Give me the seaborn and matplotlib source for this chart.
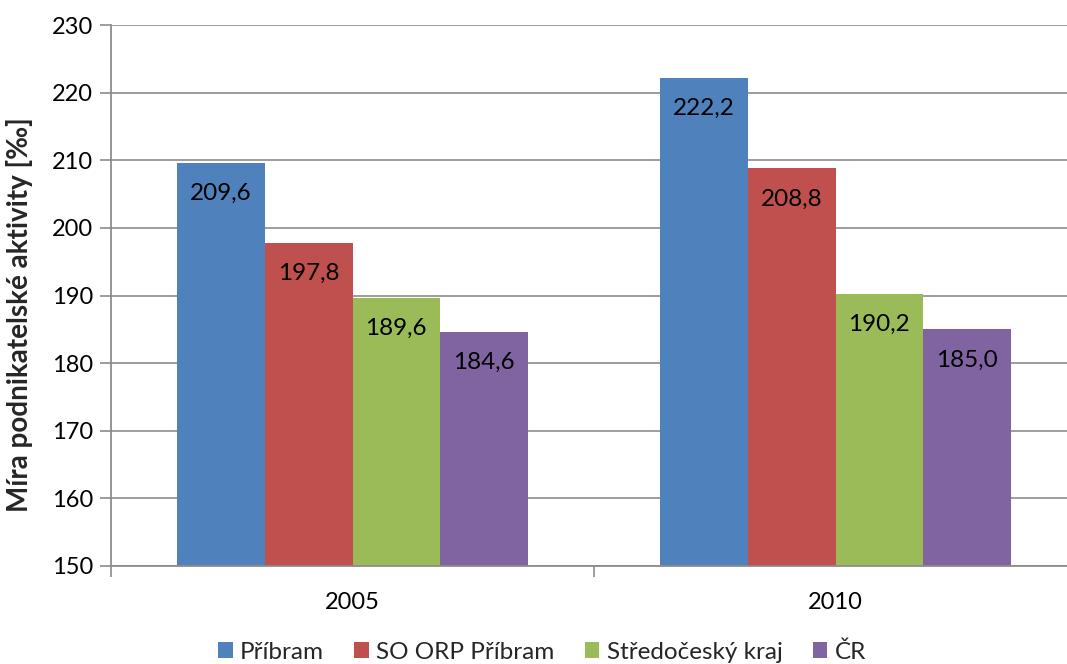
import matplotlib
matplotlib.use("Agg")
import matplotlib.pyplot as plt
import seaborn as sns
import pandas as pd
from matplotlib.ticker import MultipleLocator, FixedLocator

years = ["2005", "2010"]
regions = ["Příbram", "SO ORP Příbram", "Středočeský kraj", "ČR"]
values_2005 = [209.6, 197.8, 189.6, 184.6]
values_2010 = [222.2, 208.8, 190.2, 185.0]
colors = ["#4F81BD", "#C0504D", "#9BBB59", "#8064A2"]

rows = []
for y, vals in zip(years, [values_2005, values_2010]):
    for r, v in zip(regions, vals):
        rows.append({"year": y, "region": r, "value": v})
df = pd.DataFrame(rows)

sns.set_theme(style="white")
plt.rcParams["font.family"] = ["Lato", "DejaVu Sans"]

fig = plt.figure(figsize=(10.67, 6.64), dpi=100)
ax = fig.add_axes([111/1067, 1 - 566/664, (1077 - 111)/1067, (566 - 25)/664])

sns.barplot(data=df, x="year", y="value", hue="region", hue_order=regions,
            palette=colors, width=0.725, ax=ax, legend=True,
            edgecolor="none", linewidth=0, saturation=1)

ax.set_ylim(150, 230)
ax.set_xlim(-0.5, 1.5)
ax.yaxis.set_major_locator(MultipleLocator(10))
ax.grid(axis="y", color="#8C8C8C", linewidth=1.2)
ax.set_axisbelow(True)

for s in ["top", "right"]:
    ax.spines[s].set_visible(False)
for s in ["left", "bottom"]:
    ax.spines[s].set_color("#8C8C8C")
    ax.spines[s].set_linewidth(1.3)

ax.tick_params(axis="y", which="major", length=8, width=1.2, color="#8C8C8C",
               labelsize=17, pad=5, left=True, labelcolor="black")
ax.tick_params(axis="x", which="major", length=0, labelsize=17, pad=19, labelcolor="black")
ax.xaxis.set_minor_locator(FixedLocator([-0.5, 0.5, 1.5]))
ax.tick_params(axis="x", which="minor", length=8, width=1.2, color="#8C8C8C", bottom=True)

ax.set_xlabel("")
ax.set_ylabel("Míra podnikatelské aktivity [‰]", fontsize=20, fontweight="bold")
ax.yaxis.set_label_coords(-0.081, 0.465)

for cont in ax.containers:
    for bar in cont:
        h = bar.get_height()
        ax.annotate(f"{h:.1f}".replace(".", ","),
                    xy=(bar.get_x() + bar.get_width() / 2, h),
                    xytext=(0, -22), textcoords="offset points",
                    ha="center", va="center", fontsize=17.5, color="black")

handles, labels = ax.get_legend_handles_labels()
ax.get_legend().remove()
fig.legend(handles, labels, loc="center", bbox_to_anchor=(542/1067, 1 - 652/664),
           ncol=4, frameon=False, fontsize=17.5, handlelength=0.6, handleheight=0.6,
           handletextpad=0.3, columnspacing=1.25)

fig.savefig("out.png", dpi=100)
